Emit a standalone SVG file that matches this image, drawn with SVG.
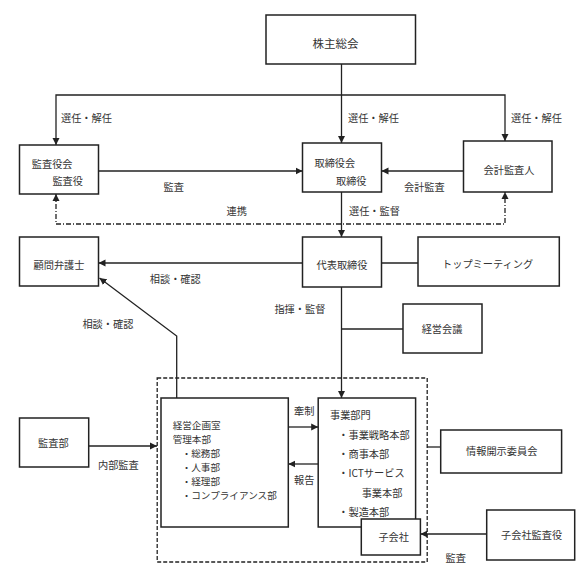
<svg xmlns="http://www.w3.org/2000/svg" width="587" height="587" viewBox="0 0 587 587">
<style>
.box{fill:#fff;stroke:#222;stroke-width:1.5}
.ln{fill:none;stroke:#222;stroke-width:1.3}
.arr{marker-end:url(#ah)}
.dd{stroke-dasharray:5 2 1 2}
.dash{fill:none;stroke:#222;stroke-width:1.3;stroke-dasharray:4 2}
text{font-family:"Noto Sans CJK JP","Noto Sans",sans-serif;font-size:10.2px;fill:#333}
.c{text-anchor:middle}
.sm{font-size:9.6px}
</style>
<defs>
<marker id="ah" markerUnits="userSpaceOnUse" markerWidth="8" markerHeight="8" refX="7" refY="4" orient="auto-start-reverse">
<path d="M0,0.5 L7,4 L0,7.5 Z" fill="#222"/>
</marker>
</defs>
<rect width="587" height="587" fill="#fff"/>
<g id="connectors">
<path class="ln arr" d="M341.5,64 V143"/>
<path class="ln arr" d="M341.5,95 H56 V145"/>
<path class="ln arr" d="M341.5,95 H505 V141"/>
<path class="ln arr" d="M98.5,171 H302.5"/>
<path class="ln arr" d="M463.5,171 H381.5"/>
<path class="ln dd" d="M56,194 V224 H505 V192" style="marker-start:url(#ah);marker-end:url(#ah)"/>
<path class="ln arr" d="M341.5,192 V237"/>
<path class="ln arr" d="M302.5,263 H98.5"/>
<path class="ln" d="M381.5,263 H418"/>
<path class="ln arr" d="M341.5,287 V398"/>
<path class="ln" d="M341.5,329 H403"/>
<path class="ln arr" d="M176.7,398 V336 L99.5,278"/>
<path class="ln arr" d="M88.7,446 H157"/>
<path class="ln arr" d="M288.3,427 H318.2"/>
<path class="ln arr" d="M318.2,464 H288.3"/>
<path class="ln" d="M427,447 H440.7"/>
<path class="ln arr" d="M486.7,534 H420.4"/>
<rect class="dash" x="157.2" y="378" width="270" height="184"/>
<text x="61" y="121.6">選任・解任</text>
<text x="348" y="121.6">選任・解任</text>
<text x="511" y="121.6">選任・解任</text>
<text x="163.6" y="190.6">監査</text>
<text x="404" y="190.6">会計監査</text>
<text x="226.5" y="214.6">連携</text>
<text x="349" y="214.6">選任・監督</text>
<text x="149.8" y="282.6">相談・確認</text>
<text x="274.4" y="312.6">指揮・監督</text>
<text x="82.4" y="327.6">相談・確認</text>
<text x="98" y="469.3">内部監査</text>
<text x="294" y="414.6">牽制</text>
<text x="294" y="483.6">報告</text>
<text x="445.5" y="561.6">監査</text>
</g>
<g id="kabunushi"><rect class="box" x="266" y="15" width="149.5" height="49"/><text class="c" x="335.6" y="48" style="font-size:11.5px">株主総会</text></g>
<g id="kansayakukai"><rect class="box" x="19.5" y="145" width="79" height="49"/><text x="31.8" y="167.6">監査役会</text><text x="52.4" y="184.6">監査役</text></g>
<g id="torishimariyakukai"><rect class="box" x="302.5" y="143" width="79" height="49"/><text x="314.5" y="166.6">取締役会</text><text x="336" y="184.6">取締役</text></g>
<g id="kaikeikansanin"><rect class="box" x="463.5" y="141" width="88.5" height="51"/><text class="c" x="509" y="173.6">会計監査人</text></g>
<g id="daihyo"><rect class="box" x="302.5" y="237" width="79" height="50"/><text class="c" x="342" y="268.6">代表取締役</text></g>
<g id="komon"><rect class="box" x="19.5" y="237" width="79" height="49"/><text class="c" x="59" y="268.6">顧問弁護士</text></g>
<g id="topmeeting"><rect class="box" x="418" y="237" width="141.3" height="49"/><text class="c" x="487.6" y="267.6">トップミーティング</text></g>
<g id="keieikaigi"><rect class="box" x="403" y="304" width="79" height="49"/><text class="c" x="442" y="332.6">経営会議</text></g>
<g id="kansabu"><rect class="box" x="19.5" y="418" width="69.2" height="49"/><text class="c" x="53.3" y="446.6">監査部</text></g>
<g id="kanri"><rect class="box" x="161" y="398" width="127.3" height="129"/>
<text class="sm" x="172.7" y="429">経営企画室</text><text class="sm" x="172.7" y="443">管理本部</text>
<text class="sm" x="181.7" y="457">・総務部</text><text class="sm" x="181.7" y="471">・人事部</text><text class="sm" x="181.7" y="485">・経理部</text><text class="sm" x="181.7" y="499">・コンプライアンス部</text></g>
<g id="jigyo"><rect class="box" x="318.2" y="398" width="97.4" height="129"/>
<text x="330" y="418.6">事業部門</text>
<text x="338.3" y="438.6">・事業戦略本部</text><text x="338.3" y="457.6">・商事本部</text><text x="338.3" y="476.6">・ICTサービス</text><text x="361.7" y="496.6">事業本部</text><text x="338.3" y="515.6">・製造本部</text></g>
<g id="kogaisha"><rect class="box" x="361.3" y="519" width="59.1" height="36"/><text class="c" x="393.7" y="540.6">子会社</text></g>
<g id="johokaiji"><rect class="box" x="440.7" y="430" width="120.9" height="43"/><text class="c" x="501.7" y="454.6">情報開示委員会</text></g>
<g id="kogaishakansayaku"><rect class="box" x="486.7" y="510" width="88" height="50"/><text class="c" x="531.6" y="538.6">子会社監査役</text></g>
</svg>
